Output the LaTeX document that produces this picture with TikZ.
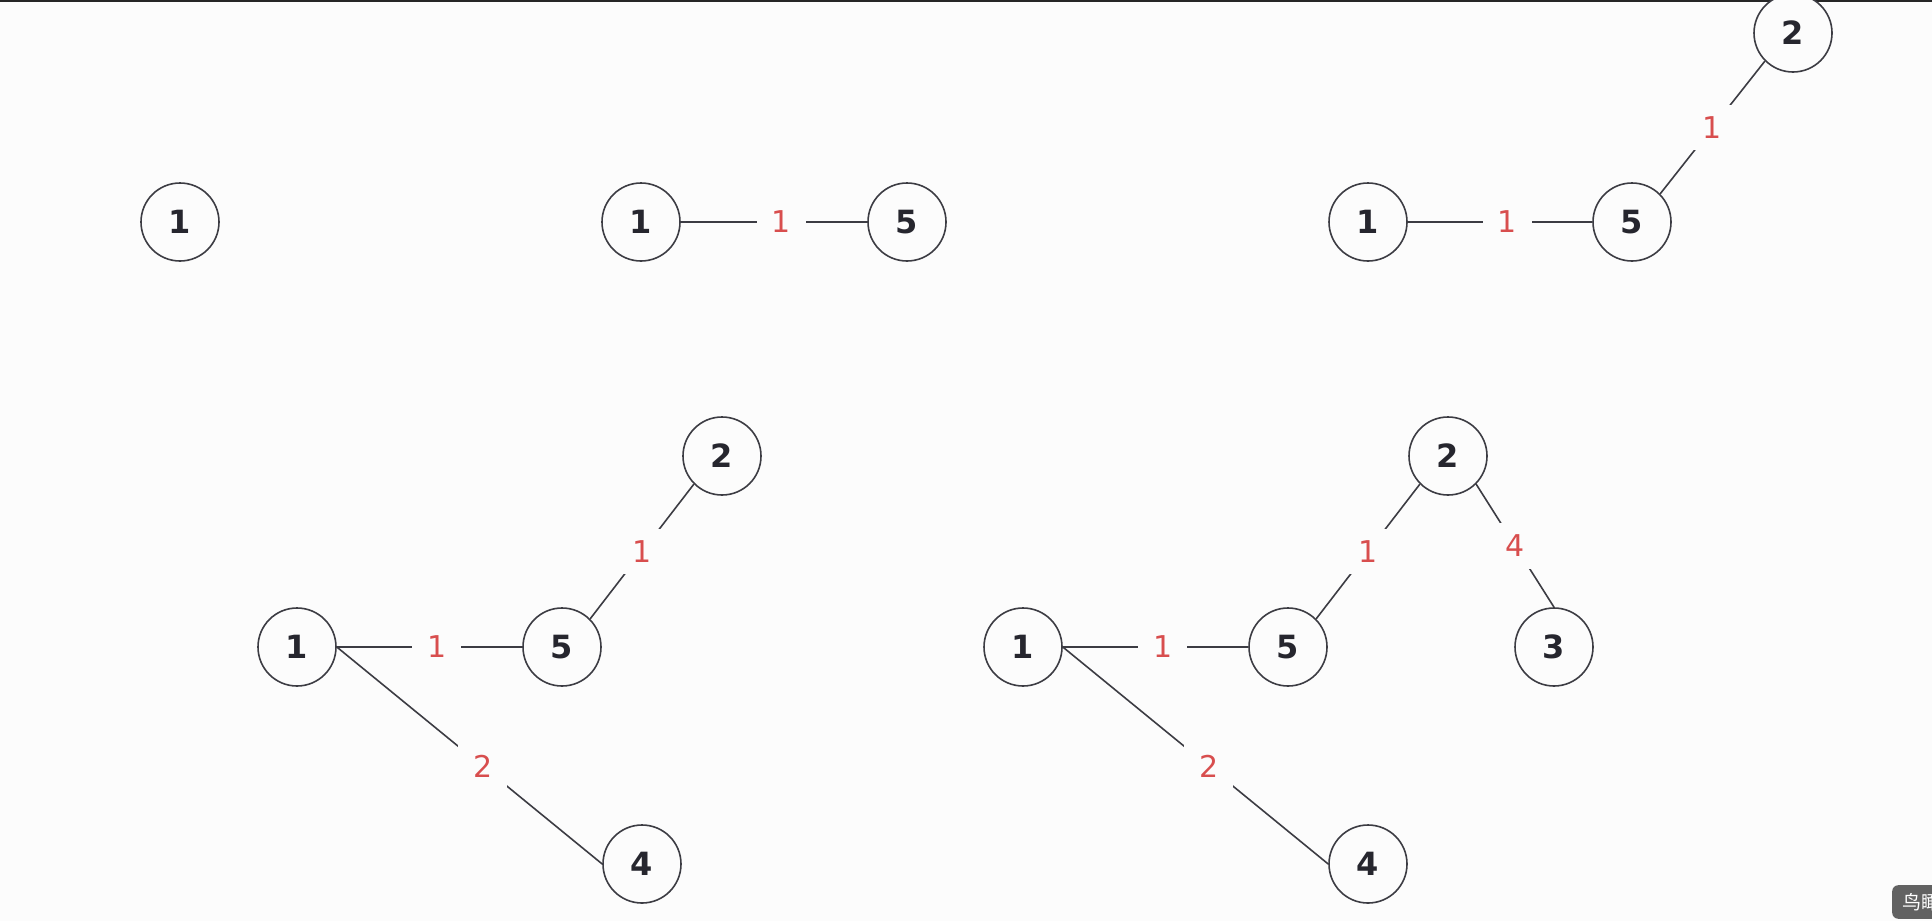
\documentclass[tikz,border=0pt]{standalone}
\usepackage{fontspec}
\setmainfont{DejaVu Sans}
\newfontfamily\cjkfont{Noto Sans CJK SC}
\usetikzlibrary{positioning}
\definecolor{inkdark}{RGB}{38,38,46}
\definecolor{weightred}{RGB}{216,78,78}
\definecolor{pagebg}{RGB}{252,252,252}
\definecolor{tipgray}{RGB}{98,98,98}
\tikzset{
  vertex/.style={draw=inkdark!90, line width=1.6pt, circle, minimum size=78pt,
                 inner sep=0pt, fill=pagebg, text=inkdark,
                 font=\fontsize{32}{32}\selectfont\bfseries},
  wt/.style={fill=pagebg, inner xsep=15pt, inner ysep=12pt, text=weightred,
             font=\fontsize{30}{30}\selectfont},
  link/.style={draw=inkdark!90, line width=1.6pt},
}

\begin{document}
\begin{tikzpicture}[x=1pt, y=-1pt]

\useasboundingbox (0,0) rectangle (1932,921);
\clip (0,0) rectangle (1932,921);
\fill[pagebg] (0,0) rectangle (1932,921);
\fill[black!85] (0,0) rectangle (1932,2);

% --- Round 1: vertex 1 only ---
\node[vertex] (a1) at (180,222) {1};

% --- Round 2: add 5 ---
\node[vertex] (b1) at (641,222) {1};
\node[vertex] (b5) at (907,222) {5};

\draw[link] (b1) -- node[wt, pos=.54] {1} (b5);

% --- Round 3: add 2 ---
\node[vertex] (c1) at (1368,222) {1};
\node[vertex] (c5) at (1632,222) {5};
\node[vertex] (c2) at (1793,33) {2};

\draw[link] (c1) -- node[wt, pos=.54] {1} (c5);
\draw[link] (c5.north east) -- node[wt] {1} (c2.south west);

% --- Round 4: add 4 ---
\node[vertex] (d1) at (297,647) {1};
\node[vertex] (d5) at (562,647) {5};
\node[vertex] (d2) at (722,456) {2};
\node[vertex] (d4) at (642,864) {4};

\draw[link] (d1) -- node[wt, pos=.54] {1} (d5);
\draw[link] (d5.north east) -- node[wt] {1} (d2.south west);
\draw[link] (d1.east) -- node[wt, pos=.55] {2} (d4.west);

% --- Round 5: add 3 ---
\node[vertex] (e1) at (1023,647) {1};
\node[vertex] (e5) at (1288,647) {5};
\node[vertex] (e2) at (1448,456) {2};
\node[vertex] (e3) at (1554,647) {3};
\node[vertex] (e4) at (1368,864) {4};

\draw[link] (e1) -- node[wt, pos=.54] {1} (e5);
\draw[link] (e5.north east) -- node[wt] {1} (e2.south west);
\draw[link] (e2.south east) -- node[wt] {4} (e3.north);
\draw[link] (e1.east) -- node[wt, pos=.55] {2} (e4.west);

% --- corner tip (bottom-right) ---
\node[anchor=north west, fill=tipgray, text=white, rounded corners=6pt,
      inner xsep=10pt, inner ysep=8pt, font=\cjkfont\fontsize{19}{19}\selectfont]
      (birdview) at (1892,885) {鸟瞰};

\end{tikzpicture}
\end{document}
